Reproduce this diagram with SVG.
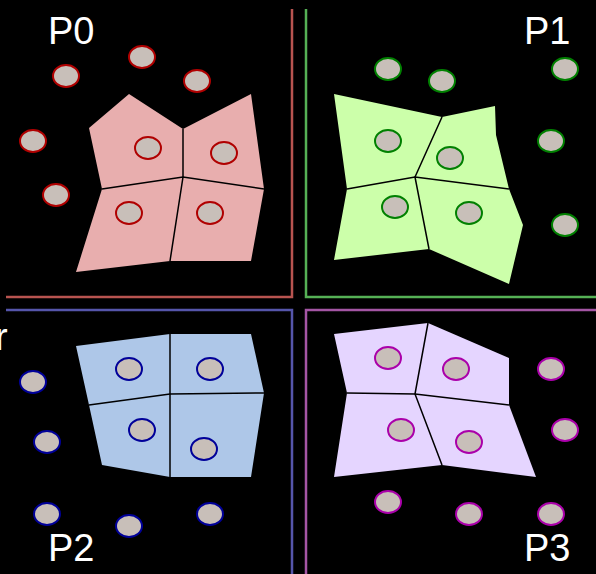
<svg xmlns="http://www.w3.org/2000/svg" width="596" height="574" viewBox="0 0 596 574">
<style>
.lbl{font-family:"Liberation Sans","DejaVu Sans",sans-serif;font-size:38px;fill:#ffffff}
.pt{fill:#c8bfb9;stroke-width:2}
.div{fill:none;stroke:#000000;stroke-width:1.5}
.frame{fill:none;stroke-width:2.5}
.p0 .pt{stroke:#b00000}
.p1 .pt{stroke:#008000}
.p2 .pt{stroke:#000099}
.p3 .pt{stroke:#aa00aa}
</style>
<rect width="596" height="574" fill="#000000"/>
<g id="frames">
<polyline class="frame" stroke="#b85450" points="292,9 292,297 6,297"/>
<polyline class="frame" stroke="#55b055" points="306,9 306,297 596,297"/>
<polyline class="frame" stroke="#5555aa" points="6,310 292,310 292,574"/>
<polyline class="frame" stroke="#a455a4" points="596,310 306,310 306,574"/>
</g>
<g id="P0" class="p0">
<polygon fill="#e8aeae" points="89,128 129,94 183,129 251,94 264,189 251,261 170,261 76,272 102,189"/>
<polyline class="div" points="183,129 183,177 170,261"/>
<polyline class="div" points="102,189 183,177 264,189"/>
<ellipse class="pt" cx="142" cy="57" rx="13" ry="11"/>
<ellipse class="pt" cx="66" cy="76" rx="13" ry="11"/>
<ellipse class="pt" cx="197" cy="81" rx="13" ry="11"/>
<ellipse class="pt" cx="33" cy="141" rx="13" ry="11"/>
<ellipse class="pt" cx="56" cy="195" rx="13" ry="11"/>
<ellipse class="pt" cx="148" cy="148" rx="13" ry="11"/>
<ellipse class="pt" cx="224" cy="153" rx="13" ry="11"/>
<ellipse class="pt" cx="129" cy="213" rx="13" ry="11"/>
<ellipse class="pt" cx="210" cy="213" rx="13" ry="11"/>
<text class="lbl" x="48" y="44">P0</text>
</g>
<g id="P1" class="p1">
<polygon fill="#ccffaa" points="334,94 442,117 495,106 496,135 509,189 523,225 509,284 429,249 334,260 347,189"/>
<polyline class="div" points="442,117 415,177 429,249"/>
<polyline class="div" points="347,189 415,177 509,189"/>
<ellipse class="pt" cx="388" cy="69" rx="13" ry="11"/>
<ellipse class="pt" cx="442" cy="81" rx="13" ry="11"/>
<ellipse class="pt" cx="565" cy="69" rx="13" ry="11"/>
<ellipse class="pt" cx="388" cy="141" rx="13" ry="11"/>
<ellipse class="pt" cx="551" cy="141" rx="13" ry="11"/>
<ellipse class="pt" cx="450" cy="158" rx="13" ry="11"/>
<ellipse class="pt" cx="395" cy="207" rx="13" ry="11"/>
<ellipse class="pt" cx="469" cy="213" rx="13" ry="11"/>
<ellipse class="pt" cx="565" cy="225" rx="13" ry="11"/>
<text class="lbl" x="524" y="44">P1</text>
</g>
<g id="P2" class="p2">
<polygon fill="#aec7e8" points="76,346 170,334 251,334 264,393 251,477 170,477 102,465 89,405"/>
<polyline class="div" points="170,334 170,477"/>
<polyline class="div" points="89,405 170,394 264,393"/>
<ellipse class="pt" cx="33" cy="382" rx="13" ry="11"/>
<ellipse class="pt" cx="129" cy="369" rx="13" ry="11"/>
<ellipse class="pt" cx="210" cy="369" rx="13" ry="11"/>
<ellipse class="pt" cx="47" cy="442" rx="13" ry="11"/>
<ellipse class="pt" cx="142" cy="430" rx="13" ry="11"/>
<ellipse class="pt" cx="204" cy="449" rx="13" ry="11"/>
<ellipse class="pt" cx="47" cy="514" rx="13" ry="11"/>
<ellipse class="pt" cx="129" cy="526" rx="13" ry="11"/>
<ellipse class="pt" cx="210" cy="514" rx="13" ry="11"/>
<text class="lbl" x="48" y="561">P2</text>
<text class="lbl" x="-5" y="350">r</text>
</g>
<g id="P3" class="p3">
<polygon fill="#e5d5ff" points="334,334 428,323 509,358 509,405 536,477 442,465 334,477 347,393"/>
<polyline class="div" points="428,323 415,394 442,465"/>
<polyline class="div" points="347,393 415,394 509,405"/>
<ellipse class="pt" cx="388" cy="358" rx="13" ry="11"/>
<ellipse class="pt" cx="456" cy="369" rx="13" ry="11"/>
<ellipse class="pt" cx="551" cy="369" rx="13" ry="11"/>
<ellipse class="pt" cx="401" cy="430" rx="13" ry="11"/>
<ellipse class="pt" cx="469" cy="442" rx="13" ry="11"/>
<ellipse class="pt" cx="565" cy="430" rx="13" ry="11"/>
<ellipse class="pt" cx="388" cy="502" rx="13" ry="11"/>
<ellipse class="pt" cx="469" cy="514" rx="13" ry="11"/>
<ellipse class="pt" cx="551" cy="514" rx="13" ry="11"/>
<text class="lbl" x="524" y="561">P3</text>
</g>
</svg>
